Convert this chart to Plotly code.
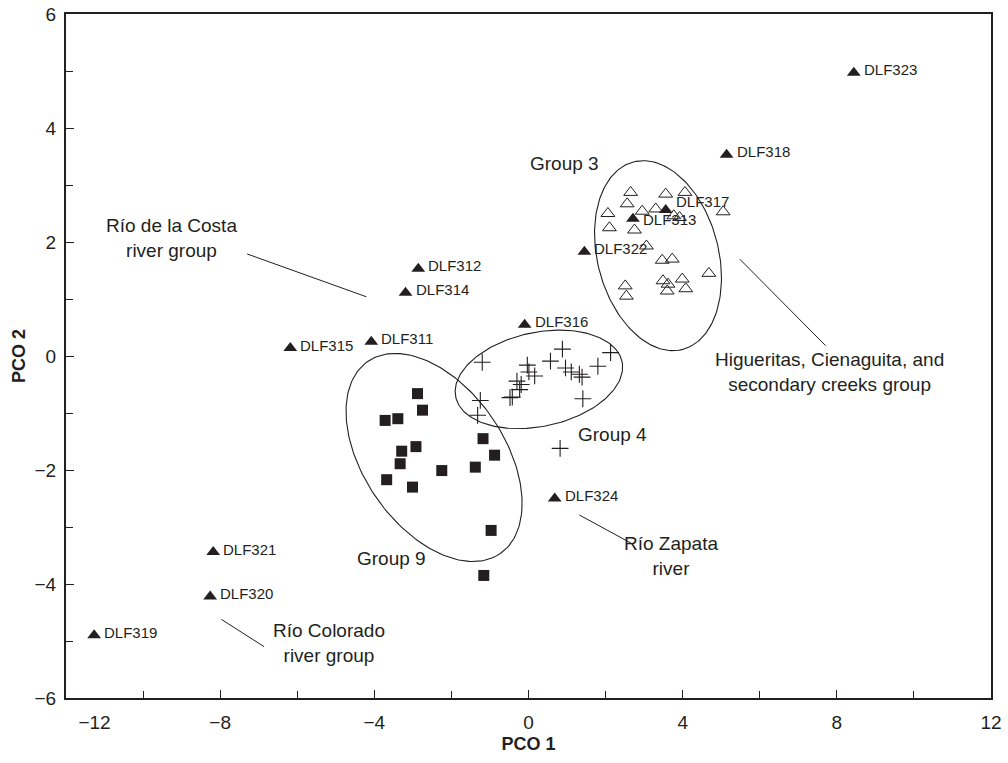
import numpy as np
import plotly.graph_objects as go

# ---------------- data ----------------
site_names = ["DLF323", "DLF318", "DLF317", "DLF313", "DLF322", "DLF312", "DLF314",
              "DLF311", "DLF315", "DLF316", "DLF324", "DLF321", "DLF320", "DLF319"]
site_x = [8.44, 5.14, 3.56, 2.71, 1.45, -2.86, -3.19, -4.08, -6.18, -0.10, 0.68, -8.18, -8.26, -11.27]
site_y = [4.97, 3.53, 2.56, 2.41, 1.83, 1.53, 1.11, 0.25, 0.14, 0.55, -2.50, -3.44, -4.22, -4.90]

group3_x = [2.65, 2.56, 2.06, 2.10, 2.75, 2.95, 3.30, 3.56, 4.06, 3.77, 3.92, 5.05,
            3.06, 3.47, 3.73, 4.68, 3.49, 3.62, 3.60, 3.99, 4.08, 2.51, 2.54]
group3_y = [2.87, 2.67, 2.50, 2.25, 2.21, 2.54, 2.58, 2.84, 2.87, 2.46, 2.43, 2.53,
            1.93, 1.68, 1.70, 1.45, 1.32, 1.26, 1.14, 1.35, 1.18, 1.23, 1.05]

group4_x = [-1.20, 0.88, 2.13, 0.57, -0.03, 0.01, 0.16, 0.96, 1.11, 1.32, 1.39, 1.80,
            -0.30, -0.19, -0.23, -0.42, -0.48, -1.25, 1.41, -1.32, 0.82]
group4_y = [-0.11, 0.12, 0.06, -0.09, -0.16, -0.28, -0.35, -0.21, -0.28, -0.32, -0.37, -0.18,
            -0.44, -0.50, -0.59, -0.72, -0.73, -0.78, -0.75, -1.04, -1.62]

group9_x = [-2.88, -2.75, -3.72, -3.39, -2.92, -3.29, -3.33, -3.68, -3.01, -2.25, -1.38,
            -1.18, -0.88, -0.97, -1.16]
group9_y = [-0.66, -0.95, -1.13, -1.10, -1.59, -1.67, -1.89, -2.17, -2.30, -2.01, -1.95,
            -1.45, -1.74, -3.06, -3.85]

x_tick_vals = [-12, -8, -4, 0, 4, 8, 12]
x_tick_text = ["\u2003\u2003\u2003\u221212", "\u22128", "\u22124", "0", "4", "8", "12"]
y_tick_vals = [-6, -4, -2, 0, 2, 4, 6]
y_tick_text = ["\u22126", "\u22124", "\u22122", "0", "2", "4", "6"]

group_labels = ["Group 3", "Group 4", "Group 9"]
region_labels = ["Río de la Costa<br>river group",
                 "Higueritas, Cienaguita, and<br>secondary creeks group",
                 "Río Zapata<br>river",
                 "Río Colorado<br>river group"]

# ---------------- layout constants ----------------
W, H = 1008, 763
ML, MR, MT, MB = 66, 17, 14, 65
XR = (-12, 12)
YR = (-6, 6)
SX = (W - ML - MR) / (XR[1] - XR[0])   # px per unit x
SY = (H - MT - MB) / (YR[1] - YR[0])   # px per unit y
INK = "#231f20"
FONT = "Liberation Sans, Arial, sans-serif"
LABEL_YSHIFT = {"DLF317": 6, "DLF313": -4}


def ellipse(cx, cy, a_px, b_px, ang_deg, n=200):
    t = np.linspace(0, 2 * np.pi, n)
    th = np.deg2rad(ang_deg)
    dx = a_px * np.cos(t) * np.cos(th) - b_px * np.sin(t) * np.sin(th)
    dy = a_px * np.cos(t) * np.sin(th) + b_px * np.sin(t) * np.cos(th)
    return cx + dx / SX, cy + dy / SY


fig = go.Figure()

# ellipses
for (cx, cy, a, b, ang) in [(3.36, 1.76, 96.9, 60.5, -75.3),
                            (0.27, -0.41, 85, 47, 12),
                            (-2.45, -1.78, 116.7, 70.4, -55.4)]:
    ex, ey = ellipse(cx, cy, a, b, ang)
    fig.add_trace(go.Scatter(x=ex, y=ey, mode="lines",
                             line=dict(color=INK, width=1.1), hoverinfo="skip"))

fig.add_trace(go.Scatter(x=group3_x, y=group3_y, mode="markers",
                         marker=dict(symbol="triangle-up-open", size=12, color=INK,
                                     line=dict(width=1, color=INK))))
fig.add_trace(go.Scatter(x=group4_x, y=group4_y, mode="markers",
                         marker=dict(symbol="cross-thin", size=12, color=INK,
                                     line=dict(width=1.1, color=INK))))
fig.add_trace(go.Scatter(x=group9_x, y=group9_y, mode="markers",
                         marker=dict(symbol="square", size=11, color=INK)))
fig.add_trace(go.Scatter(x=site_x, y=site_y, mode="markers", text=site_names,
                         marker=dict(symbol="triangle-up", size=12, color=INK)))

for nm, sx_, sy_ in zip(site_names, site_x, site_y):
    fig.add_annotation(x=sx_, y=sy_, text=nm, showarrow=False, xanchor="left",
                       xshift=8, yshift=3 + LABEL_YSHIFT.get(nm, 0),
                       font=dict(family=FONT, size=15, color=INK))

# leader lines
leaders = [((-7.30, 1.79), (-4.21, 1.04)),
           ((5.48, 1.70), (7.71, 0.18)),
           ((1.32, -2.79), (2.68, -3.29)),
           ((-7.97, -4.62), (-6.86, -5.10))]
for (x0, y0), (x1, y1) in leaders:
    fig.add_shape(type="line", x0=x0, y0=y0, x1=x1, y1=y1, xref="x", yref="y",
                  line=dict(color=INK, width=1))

# annotations
for txt, (ax, ay) in zip(group_labels, [(0.94, 3.37), (2.18, -1.37), (-3.56, -3.55)]):
    fig.add_annotation(x=ax, y=ay, text=txt, showarrow=False,
                       font=dict(family=FONT, size=19, color=INK))
for txt, (ax, ay) in zip(region_labels, [(-9.27, 2.07), (7.82, -0.28), (3.71, -3.50), (-5.17, -5.04)]):
    fig.add_annotation(x=ax, y=ay, text=txt, showarrow=False, align="center",
                       font=dict(family=FONT, size=19, color=INK))

axis_common = dict(showgrid=False, zeroline=False, showline=True, linecolor=INK,
                   linewidth=2, mirror=True, ticks="inside", ticklen=8, tickwidth=1,
                   tickcolor=INK, tickfont=dict(family=FONT, size=19, color=INK),
                   automargin=False)

fig.update_layout(
    width=W, height=H,
    margin=dict(l=ML, r=MR, t=MT, b=MB, autoexpand=False),
    paper_bgcolor="white", plot_bgcolor="white",
    showlegend=False,
    xaxis=dict(range=list(XR), tickvals=x_tick_vals, ticktext=x_tick_text,
               minor=dict(dtick=2, tick0=0, ticks="inside", ticklen=7, tickcolor=INK),
               title=dict(text="<b>PCO 1</b>", font=dict(family=FONT, size=18, color=INK), standoff=6),
               ticklabelstandoff=6,
               **axis_common),
    yaxis=dict(range=list(YR), tickvals=y_tick_vals, ticktext=y_tick_text,
               minor=dict(dtick=1, tick0=0, ticks="inside", ticklen=7, tickcolor=INK),
               title=dict(text="<b>PCO 2</b>", font=dict(family=FONT, size=18, color=INK), standoff=4),
               ticklabelstandoff=4,
               **axis_common),
)

# remove the default page margin so the figure fills the window exactly
fig.write_html("out.html",
               config={"displayModeBar": False},
               post_script="document.body.style.margin='0';document.body.style.overflow='hidden';")
